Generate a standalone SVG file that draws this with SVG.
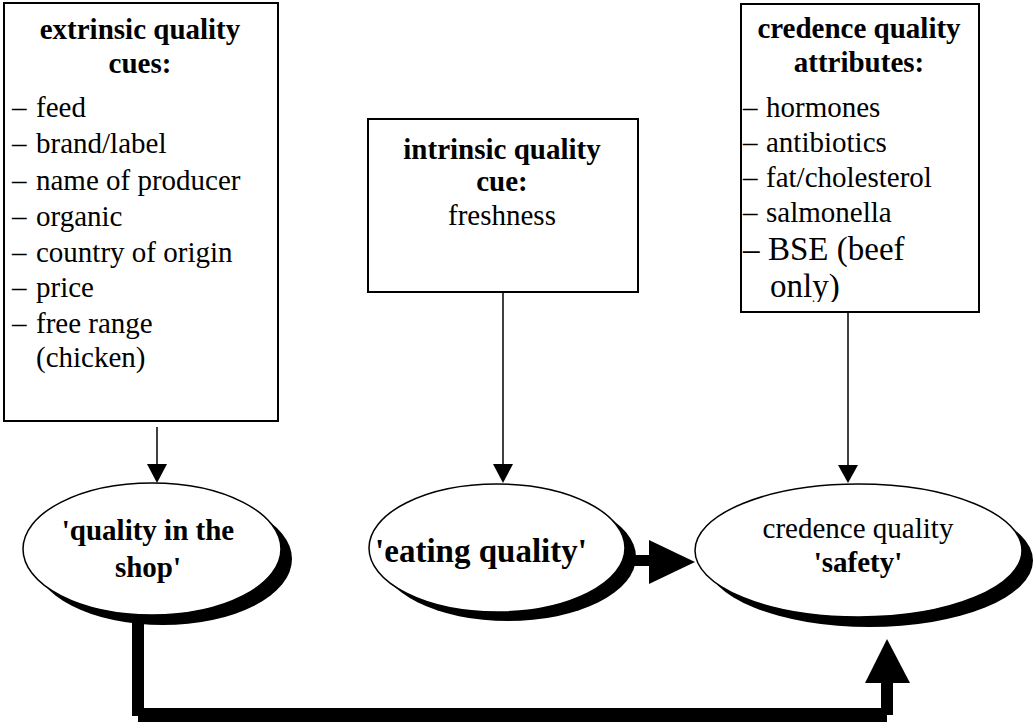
<svg xmlns="http://www.w3.org/2000/svg" width="1034" height="722" viewBox="0 0 1034 722">
  <style>
    .box { fill: #fff; stroke: #000; stroke-width: 2; }
    .oval { fill: #fff; stroke: #000; stroke-width: 1.5; }
    .shadow { fill: #000; }
    .t { font-family: "Liberation Serif", "Times New Roman", serif; font-size: 29px; fill: #000; }
    .b { font-weight: bold; }
    .big { font-size: 33px; }
    .mid { text-anchor: middle; }
    .thin { stroke: #000; stroke-width: 1.5; fill: none; }
    .head { fill: #000; }
  </style>
  <defs>
    <clipPath id="clip-credence">
      <rect x="741" y="4" width="238" height="298"/>
    </clipPath>
  </defs>

  <rect width="1034" height="722" fill="#fff"/>

  <!-- connectors -->
  <g id="connectors">
    <!-- thin arrows from the cue boxes -->
    <line class="thin" x1="157" y1="427" x2="157" y2="466"/>
    <polygon class="head" points="147,464 167,464 157,483"/>
    <line class="thin" x1="503" y1="292" x2="503" y2="466"/>
    <polygon class="head" points="493,464 513,464 503,483"/>
    <line class="thin" x1="848" y1="312" x2="848" y2="466"/>
    <polygon class="head" points="838,465 858,465 848,483"/>
    <!-- heavy arrow: eating quality to safety -->
    <rect class="head" x="615" y="555" width="36" height="11"/>
    <polygon class="head" points="649,540 649,584 695,562"/>
    <!-- heavy elbow arrow: quality in the shop to safety -->
    <rect class="head" x="132" y="612" width="12" height="104"/>
    <rect class="head" x="138" y="708" width="749" height="14"/>
    <rect class="head" x="881" y="680" width="12" height="35"/>
    <polygon class="head" points="865,683 910,683 887,639"/>
  </g>

  <!-- extrinsic cues box -->
  <g id="extrinsic-cues">
    <rect class="box" x="4" y="3" width="274" height="418"/>
    <text class="t b mid" x="140" y="39">extrinsic quality</text>
    <text class="t b mid" x="140" y="73">cues:</text>
    <text class="t"><tspan x="12" y="117">–</tspan><tspan x="36">feed</tspan></text>
    <text class="t"><tspan x="12" y="153">–</tspan><tspan x="36">brand/label</tspan></text>
    <text class="t"><tspan x="12" y="190">–</tspan><tspan x="36">name of producer</tspan></text>
    <text class="t"><tspan x="12" y="226">–</tspan><tspan x="36">organic</tspan></text>
    <text class="t"><tspan x="12" y="262">–</tspan><tspan x="36">country of origin</tspan></text>
    <text class="t"><tspan x="12" y="297">–</tspan><tspan x="36">price</tspan></text>
    <text class="t"><tspan x="12" y="333">–</tspan><tspan x="36">free range</tspan></text>
    <text class="t" x="36" y="367">(chicken)</text>
  </g>

  <!-- intrinsic cue box -->
  <g id="intrinsic-cue">
    <rect class="box" x="368" y="119" width="270" height="173"/>
    <text class="t b mid" x="502" y="159">intrinsic quality</text>
    <text class="t b mid" x="502" y="191">cue:</text>
    <text class="t mid" x="502" y="225">freshness</text>
  </g>

  <!-- credence attributes box -->
  <g id="credence-attributes">
    <rect class="box" x="741" y="4" width="238" height="308"/>
    <g clip-path="url(#clip-credence)">
      <text class="t b mid" x="859" y="38">credence quality</text>
      <text class="t b mid" x="859" y="72">attributes:</text>
      <text class="t"><tspan x="743" y="117">–</tspan><tspan x="766">hormones</tspan></text>
      <text class="t"><tspan x="743" y="152">–</tspan><tspan x="766">antibiotics</tspan></text>
      <text class="t"><tspan x="743" y="187">–</tspan><tspan x="766">fat/cholesterol</tspan></text>
      <text class="t"><tspan x="743" y="222">–</tspan><tspan x="766">salmonella</tspan></text>
      <text class="t big"><tspan x="743" y="260">–</tspan><tspan x="768">BSE (beef</tspan></text>
      <text class="t big" x="770" y="297">only)</text>
    </g>
  </g>

  <!-- quality in the shop -->
  <g id="quality-in-shop">
    <ellipse class="shadow" cx="163" cy="559" rx="129" ry="66"/>
    <ellipse class="oval" cx="152" cy="549" rx="129" ry="66"/>
    <text class="t b mid" x="148" y="540">'quality in the</text>
    <text class="t b mid" x="148" y="577">shop'</text>
  </g>

  <!-- eating quality -->
  <g id="eating-quality">
    <ellipse class="shadow" cx="508" cy="557" rx="128" ry="64"/>
    <ellipse class="oval" cx="497" cy="548" rx="128" ry="64"/>
    <text class="t b mid big" x="481" y="562">'eating quality'</text>
  </g>

  <!-- credence quality safety -->
  <g id="credence-safety">
    <ellipse class="shadow" cx="869.5" cy="560.5" rx="163.5" ry="66.5"/>
    <ellipse class="oval" cx="858.5" cy="550.5" rx="163.5" ry="66.5"/>
    <text class="t mid" x="858" y="538">credence quality</text>
    <text class="t b mid" x="858" y="572">'safety'</text>
  </g>
</svg>
